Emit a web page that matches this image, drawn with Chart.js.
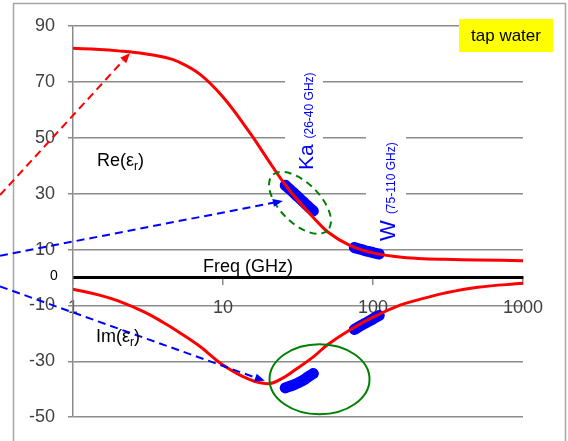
<!DOCTYPE html>
<html>
<head>
<meta charset="utf-8">
<script src="https://cdn.jsdelivr.net/npm/chart.js@4.4.1/dist/chart.umd.min.js"></script>
<style>
  html, body { margin: 0; padding: 0; background: #fff; }
  #wrap { width: 568px; height: 441px; }
</style>
</head>
<body>
<div id="wrap"><canvas id="chart" width="568" height="441"></canvas></div>
<script>
// Debye-like model curves
const modelFreq = [1, 1.5, 2, 3, 4, 5, 7, 10, 15, 20, 25, 30, 40, 50, 70, 100, 150, 200, 300, 500, 1000];
const reModel = [82.0, 81.6, 81.1, 80.1, 78.9, 77.3, 72.8, 64.6, 52.0, 42.0, 34.4, 29.0, 21.5, 16.3, 11.5, 8.8, 7.3, 6.8, 6.5, 6.3, 6.0];
const imModel = [-4.2, -6.3, -8.4, -12.4, -16.1, -19.3, -24.6, -31.3, -36.5, -38.0, -36.0, -33.2, -28.4, -24.0, -18.8, -14.2, -10.0, -8.0, -5.6, -3.5, -2.1];

// measured points, Ka band and W band
const kaFreq = [26, 28, 30, 32, 34, 36, 38, 40];
const kaRe = [33.0, 31.5, 30.0, 28.6, 27.3, 26.0, 24.8, 23.8];
const kaIm = [-39.5, -38.9, -38.3, -37.6, -36.9, -36.0, -35.1, -34.4];
const wFreq = [75, 80, 85, 90, 95, 100, 105, 110];
const wRe = [10.7, 10.3, 9.9, 9.5, 9.2, 8.9, 8.6, 8.4];
const wIm = [-18.6, -17.7, -16.9, -16.2, -15.5, -14.8, -14.2, -13.6];

const xTickValues = [1, 10, 100, 1000];
const yMin = -50, yMax = 90, yStep = 20;

// annotation arrows in data units [freq, value]
const arrowFrom = [[0.326, 29.5], [0.326, 7.8], [0.326, -3.2]];
const arrowTo = [[2.4, 80.3], [25.1, 27.4], [19.0, -37.0]];
const arrowColors = ['#ff0000', '#0000ff', '#0000ff'];

const FONT = '"Liberation Sans", Arial, sans-serif';
const LABEL_COLOR = '#404040';

function pts(xs, ys) {
    return xs.map((x, i) => ({ x: x, y: ys[i] }));
}

function drawArrow(ctx, x1, y1, x2, y2, color) {
    const a = Math.atan2(y2 - y1, x2 - x1);
    const head = 10, half = 4;
    const bx = x2 - head * Math.cos(a), by = y2 - head * Math.sin(a);
    ctx.save();
    ctx.strokeStyle = color;
    ctx.fillStyle = color;
    ctx.lineWidth = 2;
    ctx.setLineDash([8, 5]);
    ctx.beginPath();
    ctx.moveTo(x1, y1);
    ctx.lineTo(bx, by);
    ctx.stroke();
    ctx.setLineDash([]);
    ctx.beginPath();
    ctx.moveTo(x2, y2);
    ctx.lineTo(bx + half * Math.sin(a), by - half * Math.cos(a));
    ctx.lineTo(bx - half * Math.sin(a), by + half * Math.cos(a));
    ctx.closePath();
    ctx.fill();
    ctx.restore();
}

function epsLabel(ctx, x, y, prefix) {
    ctx.save();
    ctx.fillStyle = '#000';
    ctx.textBaseline = 'alphabetic';
    ctx.textAlign = 'left';
    ctx.font = '18px ' + FONT;
    const head = prefix + '(ε';
    ctx.fillText(head, x, y);
    let w = ctx.measureText(head).width;
    ctx.font = '12px ' + FONT;
    ctx.fillText('r', x + w, y + 4);
    w += ctx.measureText('r').width;
    ctx.font = '18px ' + FONT;
    ctx.fillText(')', x + w, y);
    ctx.restore();
}

function vText(ctx, x, y, big, bigSize, small) {
    ctx.save();
    ctx.translate(x, y);
    ctx.rotate(-Math.PI / 2);
    ctx.fillStyle = '#0000ff';
    ctx.textBaseline = 'alphabetic';
    ctx.textAlign = 'left';
    ctx.font = bigSize + 'px ' + FONT;
    ctx.fillText(big, 0, 0);
    const w = ctx.measureText(big + ' ').width;
    ctx.font = '12px ' + FONT;
    ctx.fillText(small, w, 0);
    ctx.restore();
}

const decorPlugin = {
    id: 'decor',
    beforeDraw(chart) {
        const ctx = chart.ctx;
        ctx.save();
        ctx.strokeStyle = '#a6a6a6';
        ctx.lineWidth = 1.5;
        ctx.strokeRect(13.5, 3.5, 552, 460);
        ctx.restore();
    },
    beforeDatasetsDraw(chart) {
        // white text boxes that break the gridlines
        const ctx = chart.ctx;
        ctx.save();
        ctx.fillStyle = '#fff';
        ctx.fillRect(285, 60, 38, 115);
        ctx.fillRect(366, 110, 40, 130);
        ctx.restore();
    },
    afterDraw(chart) {
        const ctx = chart.ctx;
        const sx = chart.scales.x, sy = chart.scales.y;

        // ellipses
        ctx.save();
        ctx.strokeStyle = '#008000';
        ctx.lineWidth = 2;
        ctx.setLineDash([7, 5]);
        ctx.beginPath();
        ctx.ellipse(sx.getPixelForValue(32.6), sy.getPixelForValue(26.7), 39, 20, Math.PI / 4, 0, Math.PI * 2);
        ctx.stroke();
        ctx.setLineDash([]);
        ctx.beginPath();
        ctx.ellipse(sx.getPixelForValue(44), sy.getPixelForValue(-36.4), 50, 35, 0, 0, Math.PI * 2);
        ctx.stroke();
        ctx.restore();

        arrowFrom.forEach((f, i) => {
            drawArrow(ctx,
                sx.getPixelForValue(f[0]), sy.getPixelForValue(f[1]),
                sx.getPixelForValue(arrowTo[i][0]), sy.getPixelForValue(arrowTo[i][1]),
                arrowColors[i]);
        });

        epsLabel(ctx, 97, 166, 'Re');
        epsLabel(ctx, 96, 342, 'Im');

        ctx.save();
        ctx.fillStyle = '#000';
        ctx.font = '18px ' + FONT;
        ctx.textBaseline = 'alphabetic';
        ctx.fillText('Freq (GHz)', 203, 272);
        ctx.font = '14px ' + FONT;
        ctx.textAlign = 'center';
        ctx.textBaseline = 'middle';
        ctx.fillText('0', 54, 276);

        // tap water box
        ctx.fillStyle = '#ffff00';
        ctx.fillRect(459, 19, 94, 33);
        ctx.fillStyle = '#000';
        ctx.font = '17px ' + FONT;
        ctx.fillText('tap water', 506, 36);
        ctx.restore();

        vText(ctx, 313, 170, 'Ka', 21, '(26-40 GHz)');
        vText(ctx, 395, 241, 'W', 22, '(75-110 GHz)');
    }
};

document.addEventListener('DOMContentLoaded', () => {
    Chart.defaults.font.family = FONT;
    const ctx = document.getElementById('chart').getContext('2d');

    const blueSet = (data) => ({
        data: data,
        showLine: true,
        borderColor: '#0000ff',
        backgroundColor: '#0000ff',
        borderWidth: 11,
        borderCapStyle: 'round',
        borderJoinStyle: 'round',
        pointRadius: 5,
        pointBorderWidth: 0,
        tension: 0.3
    });

    const redSet = (data) => ({
        data: data,
        borderColor: '#ff0000',
        borderWidth: 3,
        pointRadius: 0,
        tension: 0.4
    });

    new Chart(ctx, {
        type: 'line',
        data: {
            datasets: [
                redSet(pts(modelFreq, reModel)),
                redSet(pts(modelFreq, imModel)),
                blueSet(pts(kaFreq, kaRe)),
                blueSet(pts(kaFreq, kaIm)),
                blueSet(pts(wFreq, wRe)),
                blueSet(pts(wFreq, wIm))
            ]
        },
        options: {
            responsive: false,
            animation: false,
            layout: { padding: { left: 0, top: 26, right: 45, bottom: 21 } },
            plugins: {
                legend: { display: false },
                tooltip: { enabled: false }
            },
            scales: {
                x: {
                    type: 'logarithmic',
                    min: 1,
                    max: 1000,
                    position: { y: 0 },
                    afterBuildTicks: (s) => { s.ticks = xTickValues.map(v => ({ value: v })); },
                    ticks: {
                        callback: (v) => String(v),
                        autoSkip: false,
                        maxRotation: 0,
                        padding: 14,
                        color: LABEL_COLOR,
                        font: { size: 18 }
                    },
                    grid: {
                        drawOnChartArea: false,
                        tickLength: 6,
                        tickColor: '#8c8c8c',
                        lineWidth: 1.5
                    },
                    border: { color: '#000', width: 3 }
                },
                y: {
                    min: yMin,
                    max: yMax,
                    ticks: {
                        stepSize: yStep,
                        padding: 13,
                        color: LABEL_COLOR,
                        font: { size: 18 }
                    },
                    grid: { color: '#8c8c8c', lineWidth: 1.5, tickLength: 5 },
                    border: { color: '#8c8c8c', width: 1.5 },
                    afterFit: (s) => { s.width = 73; }
                }
            }
        },
        plugins: [decorPlugin]
    });
});
</script>
</body>
</html>
